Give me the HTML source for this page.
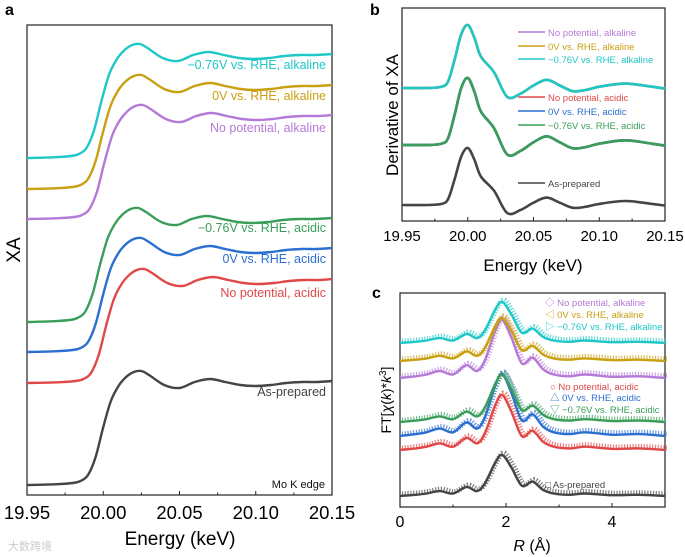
<!DOCTYPE html>
<html><head><meta charset="utf-8"><style>
body{margin:0;background:#fff}
svg{display:block;font-family:"Liberation Sans","Noto Sans CJK SC",sans-serif}
</style></head><body>
<svg id="fig" width="685" height="557" viewBox="0 0 685 557">
<g>
<text x="5" y="15" font-size="16" font-weight="bold">a</text>
<rect x="27" y="25" width="305" height="470" fill="none" stroke="#222" stroke-width="1.2"/>
<text transform="translate(20,250) rotate(-90)" font-size="19" text-anchor="middle">XA</text>
<text x="180" y="545" font-size="19" text-anchor="middle">Energy (keV)</text>
<text x="325" y="488" font-size="11" text-anchor="end" fill="#111">Mo K edge</text>
<g id="aCurves"></g><g id="aAxis"></g>
</g>
<g>
<text x="370" y="15" font-size="16" font-weight="bold">b</text>
<rect x="402" y="8" width="263" height="213" fill="none" stroke="#222" stroke-width="1.2"/>
<text transform="translate(398,115) rotate(-90)" font-size="17" text-anchor="middle">Derivative of XA</text>
<text x="533" y="271" font-size="17" text-anchor="middle">Energy (keV)</text>
<g id="bCurves"></g><g id="bAxis"></g><g id="bLegend"></g>
</g>
<g>
<text x="372" y="298" font-size="16" font-weight="bold">c</text>
<rect x="400" y="293" width="265" height="214" fill="none" stroke="#222" stroke-width="1.2"/>
<text transform="translate(391,400) rotate(-90)" font-size="14" text-anchor="middle">FT[<tspan font-style="italic">χ</tspan>(<tspan font-style="italic">k</tspan>)*<tspan font-style="italic">k</tspan><tspan baseline-shift="super" font-size="10">3</tspan>]</text>
<text x="532" y="551" font-size="16" text-anchor="middle"><tspan font-style="italic">R</tspan> (Å)</text>
<g id="cCurves"></g><g id="cAxis"></g><g id="cLegend"></g>
</g>
<text x="8" y="550" font-size="11" fill="#ccc">大数跨境</text>
</svg>
<script>
// ---- data ----
const names = ["No potential, alkaline","0V vs. RHE, alkaline","−0.76V vs. RHE, alkaline","No potential, acidic","0V vs. RHE, acidic","−0.76V vs. RHE, acidic","As-prepared"];
const colors = ["#b57ad8","#c9a012","#1fc7c7","#e04848","#2b6fd1","#3a9e5a","#444444"];
// panel a: XANES energy grid and normalized absorbance
const energyA = [19.95,19.96,19.97,19.98,19.985,19.99,19.995,20.0,20.005,20.01,20.015,20.02,20.025,20.03,20.04,20.05,20.06,20.07,20.08,20.09,20.1,20.11,20.12,20.13,20.14,20.15];
const absA = [0,0.003,0.008,0.02,0.04,0.1,0.28,0.58,0.84,0.99,1.08,1.13,1.14,1.1,1.0,0.97,1.03,1.06,1.03,1.0,0.99,1.0,1.02,1.03,1.03,1.04];
const offsetA = [2.66,2.96,3.27,1.02,1.33,1.63,0];
const shiftA = [0.001,0,-0.001,0.002,0,-0.002,0];
const aLabelY = [132,100,69,297,263,232,396];
const ticksA = [19.95,20.00,20.05,20.10,20.15];
// panel b: derivative
const energyB = [19.95,19.97,19.98,19.985,19.99,19.995,20.0,20.005,20.01,20.02,20.03,20.04,20.05,20.06,20.07,20.08,20.09,20.1,20.12,20.14,20.15];
const derivB = [0,0,-0.02,-0.1,-0.45,-0.85,-1.0,-0.8,-0.5,-0.25,0.14,0.09,-0.04,-0.13,-0.04,0.05,0.03,-0.02,-0.07,-0.02,0.01];
const groupB = [0,0,0,1,1,1,2];
const baseB = [88,145,205];
const ampB = [63,67,57];
// panel c: FT-EXAFS
const rC = [0,0.3,0.5,0.75,1.0,1.25,1.45,1.6,1.8,1.93,2.1,2.3,2.5,2.7,2.9,3.2,3.5,4.0,4.5,5.0];
const ftC = [0,0.03,0.06,0.12,0.06,0.22,0.12,0.3,0.82,1.0,0.7,0.25,0.35,0.15,0.06,0.03,0.06,0.02,0.03,0];
const baseC = [378,361,343,450,436,422,496];
const ampC = [58,43,41,55,62,47,41];
const ticksC = [0,2,4];
// ---- helpers ----
const NS="http://www.w3.org/2000/svg";
function mk(tag,attrs,parent){const e=document.createElementNS(NS,tag);for(const k in attrs)e.setAttribute(k,attrs[k]);parent.appendChild(e);return e;}
function smooth(pts){let d="M"+pts[0][0].toFixed(1)+","+pts[0][1].toFixed(1);for(let i=0;i<pts.length-1;i++){const p0=pts[Math.max(0,i-1)],p1=pts[i],p2=pts[i+1],p3=pts[Math.min(pts.length-1,i+2)];const c1=[p1[0]+(p2[0]-p0[0])/6,p1[1]+(p2[1]-p0[1])/6],c2=[p2[0]-(p3[0]-p1[0])/6,p2[1]-(p3[1]-p1[1])/6];d+="C"+c1[0].toFixed(1)+","+c1[1].toFixed(1)+" "+c2[0].toFixed(1)+","+c2[1].toFixed(1)+" "+p2[0].toFixed(1)+","+p2[1].toFixed(1);}return d;}
function xAxis(g,ticks,sx,y0,fmt,fs,ly,minor){ticks.forEach((t,i)=>{mk("line",{x1:sx(t),x2:sx(t),y1:y0,y2:y0-4,stroke:"#222"},g);const tx=mk("text",{x:sx(t),y:ly,"font-size":fs,"text-anchor":"middle"},g);tx.textContent=fmt(t);


if(minor&&i<ticks.length-1){const m=(t+ticks[i+1])/2;mk("line",{x1:sx(m),x2:sx(m),y1:y0,y2:y0-2.5,stroke:"#222"},g);}});}
// ---- panel a ----
const axA=x=>27+(x-19.95)/0.2*305, ayA=v=>485-100*v;
const gA=document.getElementById("aCurves");
names.forEach((n,s)=>{const pts=energyA.map((e,i)=>[axA(e+shiftA[s]),ayA(offsetA[s]+absA[i])]);pts[0][0]=27;pts[pts.length-1][0]=332;
const p=mk("path",{d:smooth(pts),fill:"none",stroke:colors[s],"stroke-width":2.4},gA);


const t=mk("text",{x:326,y:aLabelY[s],"font-size":12.5,"text-anchor":"end",fill:colors[s]},gA);t.textContent=n;

});
xAxis(document.getElementById("aAxis"),ticksA,axA,495,t=>t.toFixed(2),18.5,519,true);
// ---- panel b ----
const axB=x=>402+(x-19.95)/0.2*263;
const gB=document.getElementById("bCurves");
[6,0,1,2,3,4,5].forEach(s=>{const g=groupB[s];const pts=energyB.map((e,i)=>[axB(e),baseB[g]+ampB[g]*derivB[i]]);
const p=mk("path",{d:smooth(pts),fill:"none",stroke:colors[s],"stroke-width":2.6,"stroke-linejoin":"round"},gB);

});
xAxis(document.getElementById("bAxis"),ticksA,axB,221,t=>t.toFixed(2),15,241,true);
const legBY=[36,50,63,101,115,129,187];
const lB=document.getElementById("bLegend");
names.forEach((n,s)=>{mk("line",{x1:518,x2:545,y1:legBY[s]-4,y2:legBY[s]-4,stroke:colors[s],"stroke-width":1.5},lB);const t=mk("text",{x:548,y:legBY[s],"font-size":9.5,fill:colors[s]},lB);t.textContent=n;

});
// ---- panel c ----
const axC=r=>400+r*53;
const gC=document.getElementById("cCurves");
const marks=["◇","◁","▷","○","△","▽","□"];
names.forEach((n,s)=>{const pts=rC.map((r,i)=>[axC(r),baseC[s]-ampC[s]*ftC[i]]);
const mp=mk("path",{d:smooth(pts.map(p=>[p[0]+2,p[1]-2])),fill:"none",stroke:colors[s],"stroke-width":5,"stroke-dasharray":"1.2 1.6",opacity:0.7},gC);


const p=mk("path",{d:smooth(pts),fill:"none",stroke:colors[s],"stroke-width":2.4},gC);

});
xAxis(document.getElementById("cAxis"),ticksC,axC,507,t=>String(t),16,527,true);
const legCY=[306,318,330,390,401,413,488];
const lC=document.getElementById("cLegend");
names.forEach((n,s)=>{const t=mk("text",{x:s>=3&&s<6?550:545,y:legCY[s],"font-size":9.5,fill:colors[s]},lC);t.textContent=marks[s]+" "+n;

});
</script>
</body></html>
